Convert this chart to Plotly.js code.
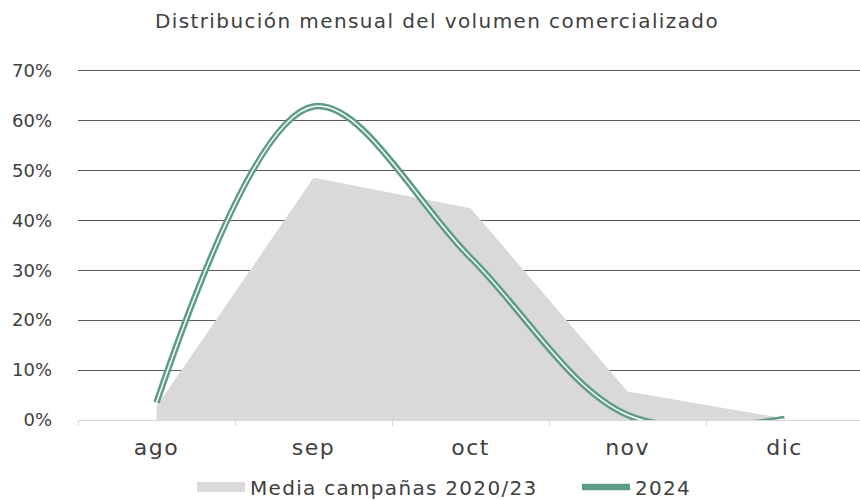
<!DOCTYPE html>
<html>
<head>
<meta charset="utf-8">
<script src="https://cdn.plot.ly/plotly-3.0.1.min.js"></script>
<style>
body{margin:0;background:#fff;}
#chart{width:860px;height:500px;}
.gtitle{letter-spacing:1.4px;}
.xtick text{letter-spacing:1.5px;}
.legendtext{letter-spacing:1.3px;}
</style>
</head>
<body>
<div id="chart"></div>
<script>
const months = ['ago', 'sep', 'oct', 'nov', 'dic'];
const media2020_23 = [2.7, 48.5, 42.4, 5.7, 0.3];
const serie2024 = [3.5, 62.8, 32.5, 1.0, 0.2];
const yTicks = [0, 10, 20, 30, 40, 50, 60, 70];
const yTickLabels = ['0%', '10%', '20%', '30%', '40%', '50%', '60%', '70%'];

const FONT = '"DejaVu Sans", Lato, sans-serif';
const TXT = '#404040';
const GREEN = '#5e9c83';
const GREY = '#d9d9d9';

const traces = [
  {
    x: months, y: media2020_23, type: 'scatter', mode: 'lines',
    name: 'Media campañas 2020/23', fill: 'tozeroy', showlegend: false,
    fillcolor: GREY, line: {width: 0, color: GREY},
    hoverinfo: 'skip'
  },
  {
    // legend swatch for the grey area
    x: [months[0]], y: [null], type: 'scatter', mode: 'lines',
    name: 'Media campañas 2020/23', line: {color: GREY, width: 13}
  },
  {
    x: months, y: serie2024, type: 'scatter', mode: 'lines',
    name: '2024', line: {color: GREEN, width: 6.5, shape: 'spline', smoothing: 1}
  },
  {
    x: months, y: serie2024, type: 'scatter', mode: 'lines',
    name: '2024', showlegend: false,
    line: {color: '#ffffff', width: 1.5, shape: 'spline', smoothing: 1}
  }
];

const layout = {
  width: 860, height: 500,
  margin: {l: 78, r: 0, t: 67.5, b: 80, autoexpand: false},
  paper_bgcolor: '#ffffff', plot_bgcolor: '#ffffff',
  font: {family: FONT, color: TXT, size: 16},
  title: {text: 'Distribución mensual del volumen comercializado', xref: 'container', x: 437/860, xanchor: 'center', yref: 'container', y: 0.958, yanchor: 'middle', font: {family: FONT, size: 20, color: TXT}},
  showlegend: true,
  legend: {orientation: 'h', xref: 'container', x: 192/860, xanchor: 'left', yref: 'container', y: 0.026, yanchor: 'middle',
           font: {family: FONT, size: 20, color: TXT}, traceorder: 'normal', itemwidth: 48, entrywidth: 322},
  xaxis: {
    type: 'category', range: [-0.5, 4.48],
    showgrid: false, zeroline: false,
    showline: true, linecolor: GREY, linewidth: 1,
    ticks: 'outside', tickson: 'boundaries', ticklen: 5, tickcolor: GREY,
    tickfont: {family: FONT, size: 22, color: TXT}, ticklabelstandoff: 8
  },
  yaxis: {
    range: [0, 70.5], tickvals: yTicks, ticktext: yTickLabels,
    showgrid: true, gridcolor: '#595959', gridwidth: 1,
    zeroline: false, showline: false,
    tickfont: {family: FONT, size: 18, color: TXT}, ticklabelstandoff: 25
  }
};

Plotly.newPlot('chart', traces, layout, {displayModeBar: false, staticPlot: true});
</script>
</body>
</html>
